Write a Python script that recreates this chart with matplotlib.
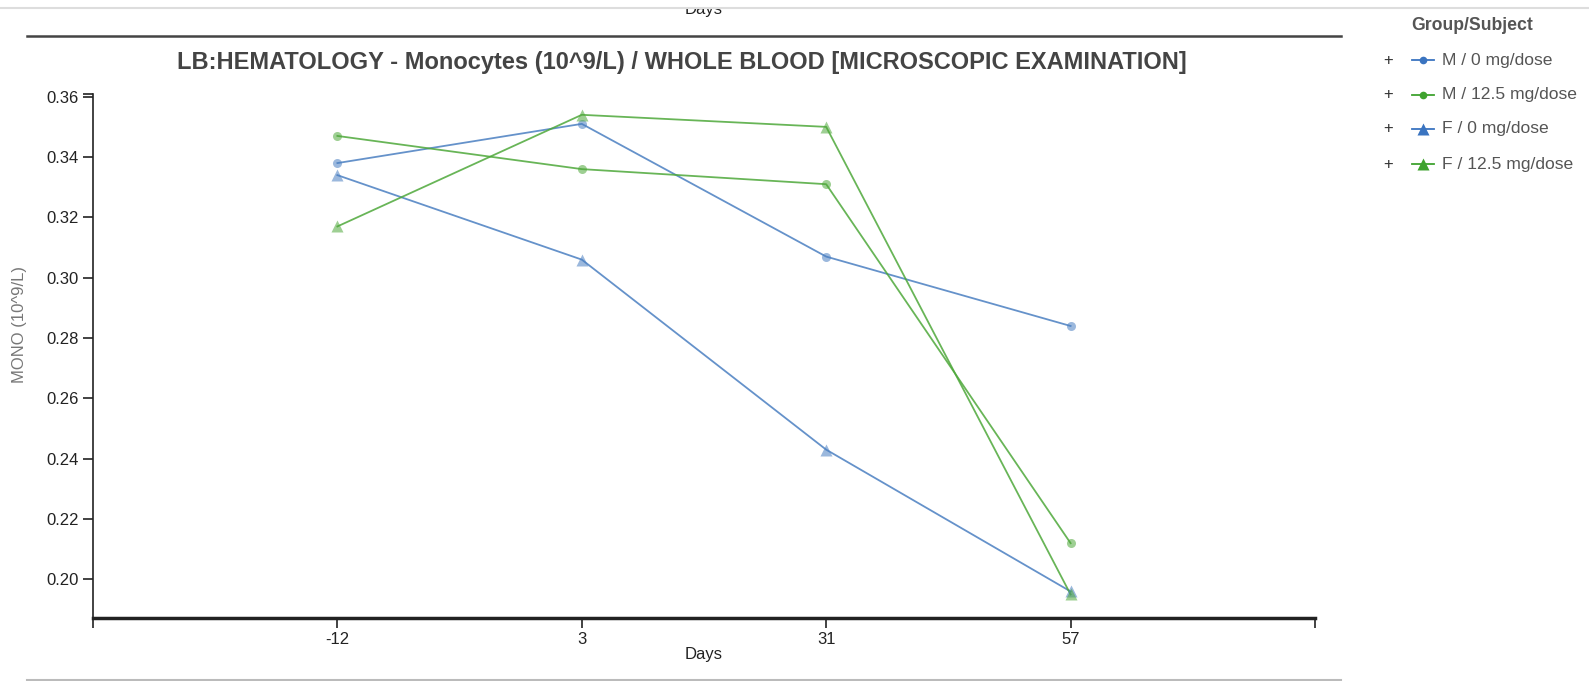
import numpy as np
import matplotlib
matplotlib.use('Agg')
import matplotlib.pyplot as plt
from matplotlib.lines import Line2D
from matplotlib.patches import Rectangle

plt.rcParams['font.family'] = ['Liberation Sans', 'DejaVu Sans']

# ── Data ──────────────────────────────────────────────────────────────────────
days = ['-12', '3', '31', '57']
m_0 = [0.338, 0.351, 0.307, 0.284]
m_125 = [0.347, 0.336, 0.331, 0.212]
f_0 = [0.334, 0.306, 0.243, 0.196]
f_125 = [0.317, 0.354, 0.350, 0.195]

series = [
    ('M / 0 mg/dose', m_0, '#4a7fc1', 'o'),
    ('M / 12.5 mg/dose', m_125, '#4ea83a', 'o'),
    ('F / 0 mg/dose', f_0, '#4a7fc1', '^'),
    ('F / 12.5 mg/dose', f_125, '#4ea83a', '^'),
]
legend_cols = ['#3a74c0', '#3fa32f', '#3a74c0', '#3fa32f']

W, H = 1589, 681
fig = plt.figure(figsize=(W / 100, H / 100), dpi=100)

def fx(px): return px / W
def fy(py): return 1 - py / H

ax = fig.add_axes([fx(93), fy(618), fx(1315) - fx(93), fy(94) - fy(618)])
x = np.arange(1, len(days) + 1)
for name, vals, col, mk in series:
    ax.plot(x, vals, color=col, lw=1.3, alpha=0.85, zorder=2)
    ax.plot(x, vals, ls='none', marker=mk, ms=6.5 if mk == 'o' else 8,
            color=col, alpha=0.55, mec='none', zorder=3)

ax.set_xlim(0, len(days) + 1)
ax.set_ylim(0.1872, 0.3609)
ax.set_xticks(x)
ax.set_xticklabels(days)
ax.set_xticks([0, len(days) + 1], minor=True)
ax.set_yticks(np.arange(0.20, 0.361, 0.02))
ax.set_yticks([0.3609], minor=True)
ax.yaxis.set_major_formatter(matplotlib.ticker.FormatStrFormatter('%.2f'))
ax.tick_params(axis='both', which='both', direction='out', length=7, width=1.2,
               colors='#222222', labelsize=12, labelcolor='#222222')
ax.tick_params(axis='x', pad=3)
ax.tick_params(axis='y', pad=3)
for s in ['top', 'right']:
    ax.spines[s].set_visible(False)
ax.spines['left'].set_color('#222222')
ax.spines['left'].set_linewidth(1.2)
ax.spines['bottom'].set_color('#222222')
ax.spines['bottom'].set_linewidth(2.5)
ax.set_xlabel('Days', fontsize=12, color='#222222', labelpad=0)

# y label sits higher than axes centre in the reference
fig.text(fx(20), fy(325), 'MONO (10^9/L)', rotation=90, ha='center', va='center',
         fontsize=12, color='#777777')

# title and frame lines
fig.text(fx(682), fy(62.5), 'LB:HEMATOLOGY - Monocytes (10^9/L) / WHOLE BLOOD [MICROSCOPIC EXAMINATION]',
         ha='center', va='center', fontsize=17, fontweight='bold', color='#444444')
fig.add_artist(Line2D([fx(27), fx(1341)], [fy(36), fy(36)], color='#444444', lw=1.8))
fig.add_artist(Line2D([fx(27), fx(1341)], [fy(679.5), fy(679.5)], color='#bbbbbb', lw=1.5))

# clipped header text
fig.text(fx(704), fy(14), 'Days', ha='center', va='baseline', fontsize=12, color='#222222')
fig.add_artist(Rectangle((0, fy(7)), 1, 1 - fy(7), transform=fig.transFigure,
                         facecolor='white', edgecolor='none', zorder=5))
fig.add_artist(Line2D([0, 1], [fy(7.5), fy(7.5)], color='#dddddd', lw=1.5, zorder=6))

# legend
fig.text(fx(1411), fy(26), 'Group/Subject', ha='left', va='center', fontsize=12.7,
         fontweight='bold', color='#555555')
rows = [60, 95, 129, 164]
for (name, vals, col, mk), lc, ry in zip(series, legend_cols, rows):
    fig.text(fx(1388), fy(ry), '+', ha='center', va='center', fontsize=12, color='#333333')
    fig.add_artist(Line2D([fx(1412), fx(1434)], [fy(ry), fy(ry)], color=lc, lw=1.3))
    fig.add_artist(Line2D([fx(1423)], [fy(ry)], color=lc, marker=mk,
                          ms=5.5 if mk == 'o' else 8, mec='none'))
    fig.text(fx(1442), fy(ry), name, ha='left', va='center', fontsize=12.6, color='#555555')

plt.savefig('out.png', dpi=100)
